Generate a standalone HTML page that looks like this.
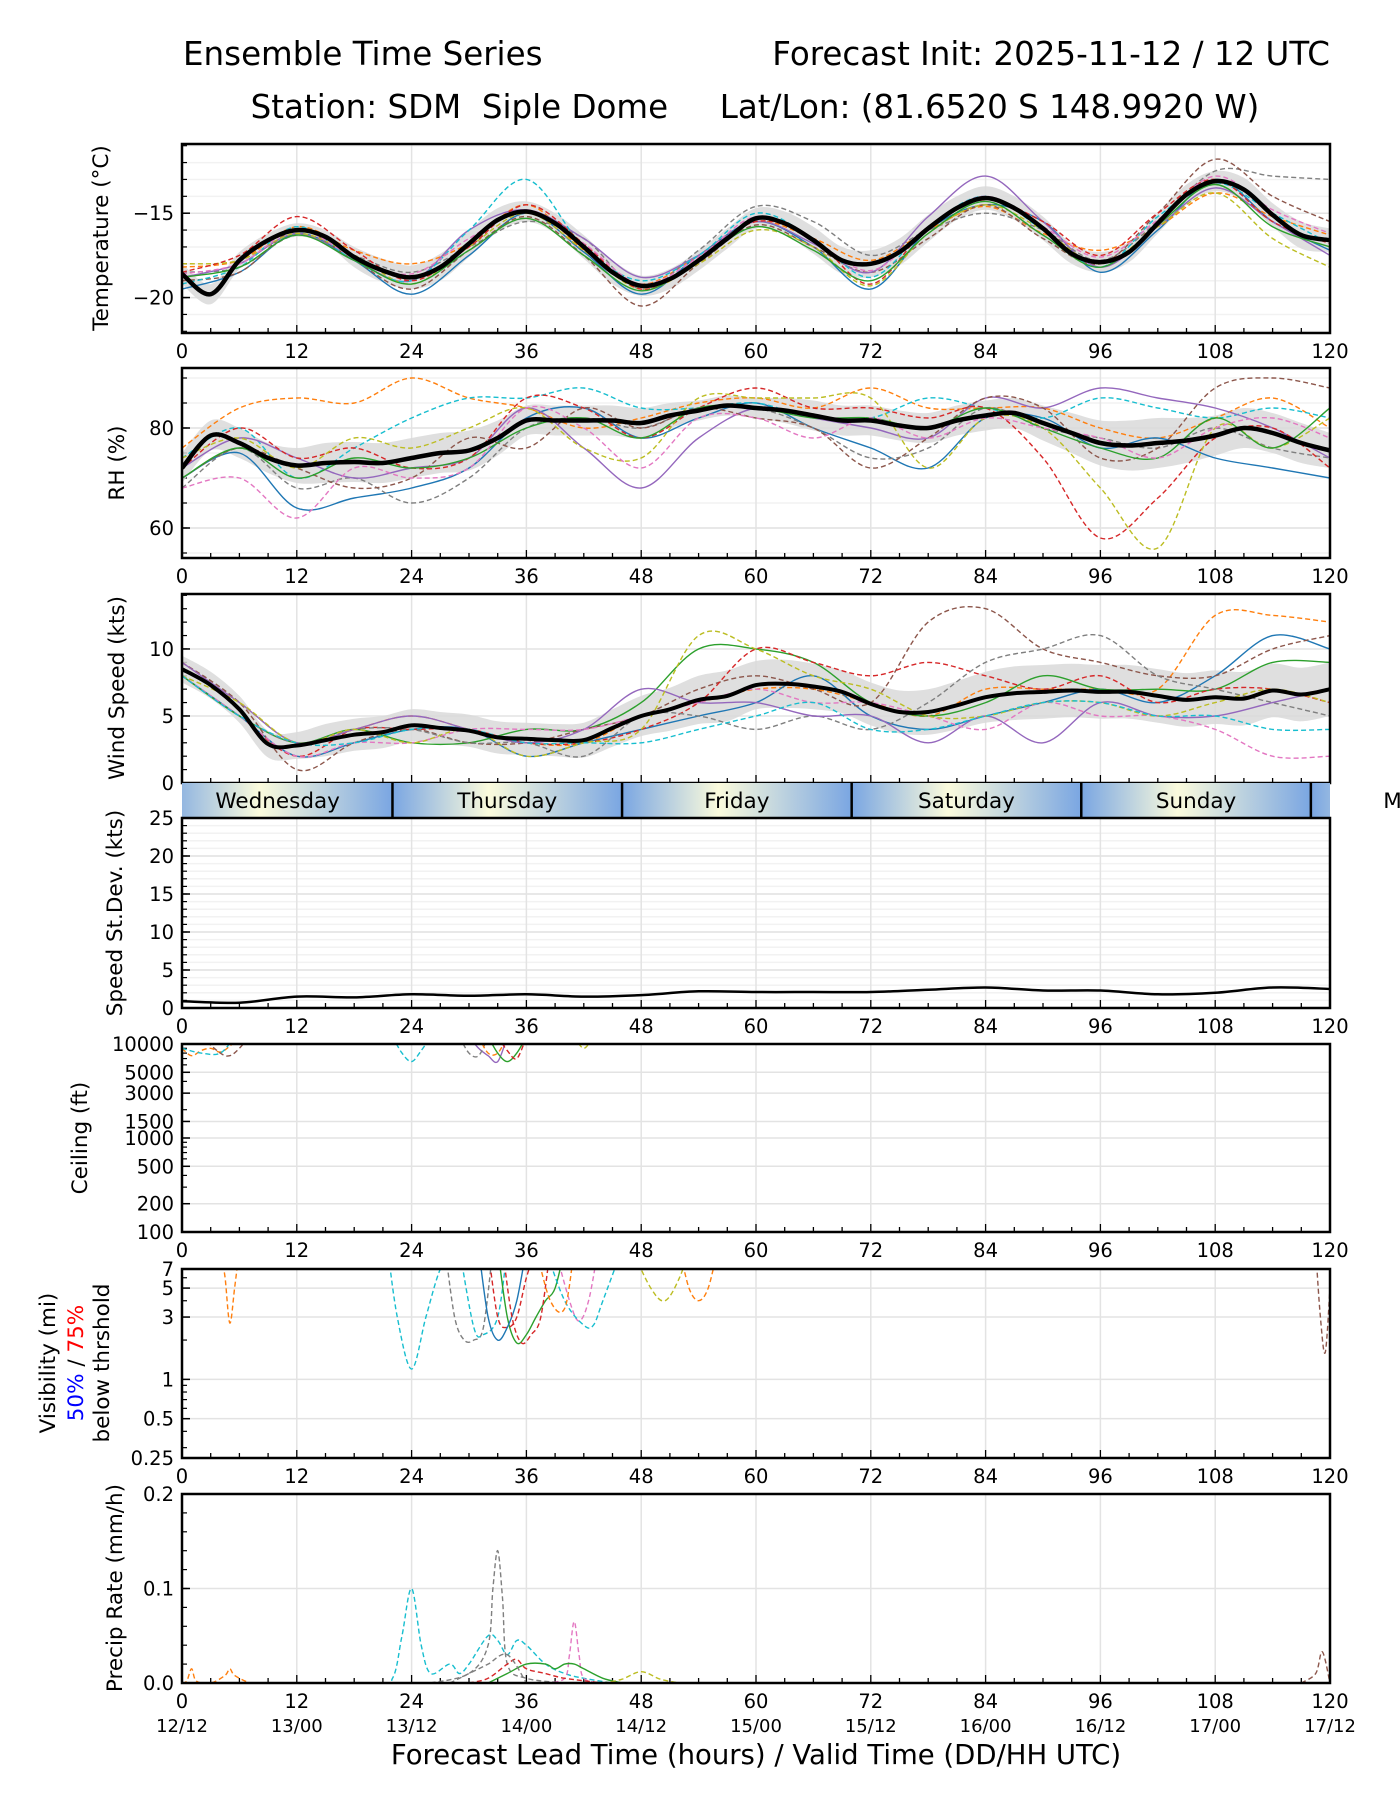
<!DOCTYPE html>
<html><head><meta charset="utf-8">
<style>
html,body{margin:0;padding:0;background:#fff;}
svg{display:block;font-family:"DejaVu Sans","Liberation Sans",sans-serif;}
</style></head>
<body>
<svg id="chart" xmlns="http://www.w3.org/2000/svg" width="1400" height="1800" viewBox="0 0 1400 1800">
<text x="183" y="65" font-size="32.5">Ensemble Time Series</text>
<text x="1330" y="65" font-size="32.5" text-anchor="end">Forecast Init: 2025-11-12 / 12 UTC</text>
<text x="755" y="118" font-size="32.5" text-anchor="middle" xml:space="preserve" style="white-space:pre">Station: SDM  Siple Dome     Lat/Lon: (81.6520 S 148.9920 W)</text>
<text x="756" y="1764" font-size="27.5" text-anchor="middle">Forecast Lead Time (hours) / Valid Time (DD/HH UTC)</text>
<g id="layer"></g>
</svg>
<script>
// ---------- DATA ----------
const hours3 = [0,3,6,9,12,15,18,21,24,27,30,33,36,39,42,45,48,51,54,57,60,63,66,69,72,75,78,81,84,87,90,93,96,99,102,105,108,111,114,117,120];
const hours6 = [0,6,12,18,24,30,36,42,48,54,60,66,72,78,84,90,96,102,108,114,120];
const tempMean = [-18.6,-19.8,-17.8,-16.6,-16.0,-16.4,-17.6,-18.4,-18.8,-18.2,-16.8,-15.4,-14.9,-15.6,-17.0,-18.5,-19.3,-18.9,-17.8,-16.5,-15.3,-15.6,-16.6,-17.8,-18.0,-17.3,-15.9,-14.7,-14.1,-14.7,-15.9,-17.4,-17.9,-17.3,-15.6,-13.9,-13.1,-13.6,-15.1,-16.3,-16.6];
const tempSpread = [0.6,0.6,0.5,0.4,0.4,0.4,0.6,0.7,0.7,0.8,0.8,0.7,0.6,0.6,0.7,0.7,0.6,0.6,0.6,0.6,0.6,0.7,0.8,0.8,0.8,0.8,0.8,0.7,0.7,0.7,0.7,0.6,0.6,0.6,0.6,0.6,0.6,0.7,0.7,0.8,0.7];
const tempM1 = [-19.5,-18.5,-16.2,-17.8,-19.8,-17.5,-15.0,-17.3,-19.8,-17.5,-15.5,-17.0,-19.5,-16.0,-14.5,-15.5,-18.5,-16.0,-13.0,-15.5,-17.2];
const tempM2 = [-18.2,-17.8,-15.8,-17.2,-18.0,-16.8,-14.5,-17.2,-19.2,-17.5,-15.5,-16.5,-17.8,-16.0,-14.6,-16.2,-17.2,-15.8,-13.8,-15.2,-16.3];
const tempM3 = [-18.5,-18.2,-16.3,-17.5,-18.5,-17.0,-15.5,-16.5,-19.5,-17.2,-14.6,-15.5,-17.5,-16.0,-15.0,-16.0,-17.8,-15.5,-12.5,-12.8,-13.0];
const tempM4 = [-19.0,-18.5,-16.0,-17.8,-19.5,-17.2,-15.2,-17.5,-20.5,-18.0,-15.7,-17.0,-18.5,-16.5,-14.5,-16.5,-18.0,-15.0,-11.8,-14.0,-15.5];
const tempM5 = [-18.8,-18.0,-16.2,-17.8,-19.0,-16.0,-14.8,-16.5,-18.8,-17.5,-15.5,-16.8,-18.5,-15.2,-12.8,-15.5,-18.2,-15.8,-13.5,-15.5,-17.5];
const tempM6 = [-18.0,-17.8,-16.2,-17.5,-19.2,-17.0,-15.0,-17.2,-19.5,-18.0,-16.0,-17.0,-19.3,-16.2,-14.5,-16.0,-18.0,-15.8,-13.8,-16.5,-18.2];
const tempM7 = [-19.2,-18.2,-15.8,-17.8,-19.0,-16.0,-13.0,-17.0,-19.0,-17.5,-15.0,-16.5,-18.8,-15.8,-14.0,-16.0,-18.2,-15.2,-13.2,-15.0,-16.8];
const tempM8 = [-18.5,-17.5,-15.2,-17.2,-19.0,-17.0,-14.5,-16.8,-19.5,-17.8,-15.5,-16.5,-19.2,-15.8,-14.2,-15.5,-17.5,-15.0,-13.0,-15.5,-16.8];
const tempM9 = [-18.8,-18.2,-16.3,-17.8,-19.2,-17.2,-15.3,-17.5,-19.6,-17.8,-15.8,-17.2,-19.0,-16.2,-14.3,-16.3,-18.2,-15.7,-13.3,-15.8,-17.0];
const tempM10 = [-18.6,-18.0,-16.0,-17.6,-18.6,-16.5,-14.8,-16.8,-19.2,-17.6,-15.2,-16.6,-18.4,-15.8,-14.0,-15.8,-17.6,-15.4,-12.8,-14.8,-16.2];

const rhMean = [72,78.5,77,74,72.5,73,73.2,73,74,75,75.5,78,81.5,81.5,81.5,81.5,81,82.5,83.5,84.5,84,83.5,82.5,81.5,81.5,80.5,80,81.5,82.5,83,81,79,77,76.5,77,77.5,78.5,80,79,77,75.5];
const rhSpread = [3,3,3,3,3.5,4,4,4,4,4,4,3.5,3,3,3,3,3,2.5,2,2,2,2.5,3,3,3,3,3,3,3,3,3.5,4,4.5,5,5,4.5,4,4,4,4,3.5];
const rhM1 = [76,84,86,85,90,86,84,80,82,85,86,84,88,84,84,84,80,78,82,86,80];
const rhM2 = [70,75,64,66,68,72,82,84,78,82,85,80,76,72,82,82,76,78,74,72,70];
const rhM3 = [68,76,68,70,65,70,80,82,80,84,84,80,74,76,84,80,78,76,80,76,74];
const rhM4 = [74,80,70,76,82,86,86,88,84,84,85,82,82,86,84,82,86,84,82,84,82];
const rhM5 = [72,78,74,70,72,74,84,76,68,78,84,82,80,78,86,84,88,86,84,80,74];
const rhM6 = [70,76,72,68,70,78,76,84,80,84,82,80,72,78,86,84,74,76,88,90,88];
const rhM7 = [72,80,74,76,72,74,86,84,78,84,88,84,84,82,84,74,58,66,78,80,72];
const rhM8 = [74,78,72,78,76,80,84,76,74,86,86,86,86,72,82,80,68,56,80,76,82];
const rhM9 = [70,76,70,74,72,74,80,82,78,84,84,82,82,80,84,80,76,74,82,76,84];
const rhM10 = [68,70,62,72,70,72,84,80,72,82,82,78,82,78,82,80,78,74,80,82,78];

const windMean = [8.5,7.3,5.5,2.9,2.8,3.2,3.6,3.8,4.3,4.1,3.9,3.4,3.3,3.2,3.2,4.1,5.0,5.5,6.2,6.5,7.3,7.4,7.2,6.8,5.9,5.3,5.3,5.8,6.4,6.7,6.8,6.9,6.8,6.8,6.5,6.2,6.4,6.3,6.9,6.6,7.0];
const windSpread = [1,1,1,1,1,1.2,1.2,1.2,1.2,1.2,1.2,1.2,1.2,1.2,1.3,1.4,1.5,1.6,1.8,1.9,1.8,1.8,1.7,1.6,1.6,1.6,1.7,1.8,1.9,2,2,2,2,2,2,2,2,2,2,2,2];
const windM1 = [9,6,3,4,5,4,3,3,5,6,7,7,6,5,7,7,7,7,12.5,12.5,12];
const windM2 = [8,5,2,3,4,4,2,3,4,5,6,8,5,4,5,6,7,6,8,11,10];
const windM3 = [8,5,3,4,3,3,4,4,6,10,10,9,6,5,6,8,7,7,7,9,9];
const windM4 = [9,6,1,3,4,3,3,4,5,7,8,7,6,12,13,10,9,8,8,10,11];
const windM5 = [8,5,2,4,4,4,3,3,4,6,10,9,8,9,8,7,8,6,7,7,6];
const windM6 = [8,5,3,4,4,3,3,2,5,5,4,5,4,6,9,10,11,8,7,6,5];
const windM7 = [9,6,3,4,5,4,3,4,7,6,6,5,5,3,5,3,6,5,5,6,7];
const windM8 = [8,5,2,3,3,4,4,4,5,6,7,6,6,5,4,6,5,5,4,2,2];
const windM9 = [8,6,3,4,3,4,2,3,4,11,10,8,7,5,5,6,6,5,6,7,6];
const windM10 = [8,5,3,3,4,4,3,3,3,4,5,6,4,4,5,6,6,5,5,4,4];

const sdValues = [0.9,0.7,1.5,1.4,1.8,1.6,1.8,1.5,1.7,2.2,2.1,2.1,2.1,2.4,2.7,2.3,2.3,1.8,2.0,2.7,2.5];

const dayNames = ["Wednesday","Thursday","Friday","Saturday","Sunday","Monday"];
const dayStarts = [-2,22,46,70,94,118];

const ceilH1=[0,1,2,3,4,5,6], ceilV1=[9000,7500,8500,9000,8200,9500,12000];
const ceilH2=[0,2,4,5.5], ceilV2=[9000,8000,8000,12000];
const ceilH3=[2,4,5,6,7], ceilV3=[12000,8000,7500,9000,12000];
const ceilH4=[22,23,24,25,26], ceilV4=[12000,8000,6500,8500,12000];
const ceilH5=[30,31,32,33,34], ceilV5=[12000,9000,7500,6500,12000];
const ceilH6=[32,33,34,35,36], ceilV6=[12000,8000,6500,8000,12000];
const ceilH7=[29,30,31,32], ceilV7=[12000,8000,7500,12000];
const ceilH8=[31,32,33,34], ceilV8=[12000,8000,8000,12000];
const ceilH9=[33,34,35,36], ceilV9=[12000,8500,7000,12000];
const ceilH10=[41,42,43], ceilV10=[12000,9000,12000];

const visH1=[4,4.5,5,5.5,6], visV1=[10,6,2.7,5,10];
const visH2=[21.5,22.5,24,25.5,27,28.5], visV2=[10,3,1.2,3,7,10];
const visH3=[27.5,28.5,29.5,30.5,31.5,32.5], visV3=[10,3,2,2,2.5,10];
const visH4=[29,30.5,31.5,33,34], visV4=[10,2.5,2.2,3,10];
const visH5=[33,34,35,36,37,38,39,40], visV5=[10,3,1.9,2.2,3,4,5,10];
const visH6=[32,33,34,35,36,37], visV6=[10,3,2.5,3,6,10];
const visH7=[31,32,33,34,35,36], visV7=[10,3,2,2.5,4,10];
const visH8=[33.5,34.5,35.5,36.5,37.5,38.5], visV8=[10,3,1.9,2.2,3,10];
const visH9=[39,40.5,41.5,42.5,43.5], visV9=[10,4,2.8,4,10];
const visH10=[38,40,42,43,44,46], visV10=[10,4,2.6,2.6,4,10];
const visH11=[47,49,50.5,52,53], visV11=[10,5,4,6,10];
const visH12=[52,53,54,55,56], visV12=[10,5,4,5,10];
const visH13=[118.5,119,119.5,120], visV13=[10,3,1.6,5];
const visH14=[37,38.5,40,41], visV14=[10,4,3.5,10];

const prH1=[0,20,22,23,24,25,26,28,29,30,32,33,34,35,36,38,40,42,45], prV1=[0,0,0.005,0.05,0.1,0.04,0.01,0.02,0.01,0.02,0.05,0.045,0.03,0.045,0.04,0.02,0.01,0.005,0];
const prH2=[26,30,32,32.5,33,33.5,34,36,40], prV2=[0,0.01,0.04,0.1,0.14,0.09,0.02,0.005,0];
const prH3=[38,40,40.5,41,41.5,42,44], prV3=[0,0.005,0.03,0.065,0.03,0.005,0];
const prH4=[32,34,36,38,39,40,41,42,44,46], prV4=[0,0.01,0.02,0.02,0.015,0.02,0.02,0.015,0.005,0];
const prH5=[30,32,34,35,36,38,40,44], prV5=[0,0.005,0.02,0.025,0.015,0.01,0.005,0];
const prH6=[117,118.5,119.2,120], prV6=[0,0.01,0.033,0];
const prH7=[0,0.5,1,1.5,3,4.5,5,5.5,7], prV7=[0,0.002,0.015,0.002,0,0.008,0.015,0.008,0];
const prH8=[44,46,48,50,52], prV8=[0,0.004,0.012,0.004,0];
const prH9=[28,30,32,34,36], prV9=[0,0.01,0.02,0.03,0];

// ---------- HELPERS ----------
const NS="http://www.w3.org/2000/svg";
const layer=document.getElementById('layer');
const X0=182, X1=1330;
const TICKFS=19.5, LABFS=21.5;
function sx(h){return X0+h/120*(X1-X0);}
function mk(tag,attrs,parent){const e=document.createElementNS(NS,tag);for(const k in attrs)e.setAttribute(k,attrs[k]);(parent||layer).appendChild(e);return e;}
function smooth(pts){
  if(pts.length<2)return "";
  let d="M"+pts[0][0].toFixed(1)+","+pts[0][1].toFixed(1);
  for(let i=0;i<pts.length-1;i++){
    const p0=pts[Math.max(0,i-1)],p1=pts[i],p2=pts[i+1],p3=pts[Math.min(pts.length-1,i+2)];
    const c1x=p1[0]+(p2[0]-p0[0])/6,c1y=p1[1]+(p2[1]-p0[1])/6;
    const c2x=p2[0]-(p3[0]-p1[0])/6,c2y=p2[1]-(p3[1]-p1[1])/6;
    d+=" C"+c1x.toFixed(1)+","+c1y.toFixed(1)+" "+c2x.toFixed(1)+","+c2y.toFixed(1)+" "+p2[0].toFixed(1)+","+p2[1].toFixed(1);
  }
  return d;
}
const COLORS=["#1f77b4","#ff7f0e","#7f7f7f","#8c564b","#9467bd","#bcbd22","#17becf","#d62728","#2ca02c","#e377c2"];
const DASH=[null,"5,3","5,3","5,3",null,"5,3","5,3","5,3",null,"5,3"];
let clipId=0;

function panel(name,top,bot,ys,opts){
  const g=mk('g',{});
  
  
  (opts.minorGrid||[]).forEach(v=>{
    const l=mk('line',{x1:X0,x2:X1,y1:ys(v),y2:ys(v),stroke:'#f2f2f2','stroke-width':1.5},g);
    
    
  });
  for(let h=12;h<120;h+=12){
    const l=mk('line',{x1:sx(h),x2:sx(h),y1:top,y2:bot,stroke:'#e3e3e3','stroke-width':1.5},g);
    
    
  }
  opts.majors.forEach((v,i)=>{
    const y=ys(v);
    if(y>top+1&&y<bot-1){
      const l=mk('line',{x1:X0,x2:X1,y1:y,y2:y,stroke:'#e3e3e3','stroke-width':1.5},g);
      
      
    }
    const t=mk('text',{x:174,y:y+7,'font-size':TICKFS,'text-anchor':'end'},g);
    t.textContent=opts.labels[i];
    
    
    const tk=mk('line',{x1:X0,x2:X0+8,y1:y,y2:y,stroke:'#000','stroke-width':1.5},g);
    
    
  });
  (opts.minorTicks||[]).forEach(v=>{
    const y=ys(v);
    const tk=mk('line',{x1:X0,x2:X0+5,y1:y,y2:y,stroke:'#000','stroke-width':1.2},g);
    
    
  });
  for(let h=0;h<=120;h+=3){
    const len=(h%12===0)?8:5;
    const tk=mk('line',{x1:sx(h),x2:sx(h),y1:bot,y2:bot-len,stroke:'#000','stroke-width':1.3},g);
    
    
  }
  if(opts.xlabels){
    for(let h=0;h<=120;h+=12){
      const t=mk('text',{x:sx(h),y:bot+25,'font-size':TICKFS,'text-anchor':'middle'},g);
      t.textContent=String(h);
      
      
    }
  }
  const cid='c'+(clipId++);
  const cp=mk('clipPath',{id:cid},g);
  mk('rect',{x:X0,y:top,width:X1-X0,height:bot-top},cp);
  const data=mk('g',{'clip-path':'url(#'+cid+')'},g);
  
  
  g._data=data; g._top=top; g._bot=bot; g._name=name;
  return g;
}
function frame(g){
  const r=mk('rect',{x:X0,y:g._top,width:X1-X0,height:g._bot-g._top,fill:'none',stroke:'#000','stroke-width':2.5},g);
  
  
}
function member(g,hs,vs,ys,idx,name){
  const p=mk('path',{d:smooth(hs.map((h,i)=>[sx(h),ys(vs[i])])),fill:'none',stroke:COLORS[idx%10],'stroke-width':1.4},g._data);
  if(DASH[idx%10])p.setAttribute('stroke-dasharray',DASH[idx%10]);
  
  
}
function band(g,hs,mean,spread,ys,name){
  const up=hs.map((h,i)=>[sx(h),ys(mean[i]+spread[i])]);
  const lo=hs.map((h,i)=>[sx(h),ys(mean[i]-spread[i])]).reverse();
  const d=smooth(up)+" L"+smooth(lo).slice(1)+" Z";
  const p=mk('path',{d:d,fill:'#d9d9d9',stroke:'none','fill-opacity':0.85},g._data);
  
  
}
function meanLine(g,hs,vs,ys,name,w){
  const p=mk('path',{d:smooth(hs.map((h,i)=>[sx(h),ys(vs[i])])),fill:'none',stroke:'#000','stroke-width':w||4.5,'stroke-linejoin':'round'},g._data);
  
  
}
function ylabel(x,cy,txt,name){
  const t=mk('text',{x:x,y:cy,'font-size':LABFS,'text-anchor':'middle',transform:'rotate(-90 '+x+' '+cy+')'});
  t.textContent=txt;
  
  
  return t;
}
function lin(top,bot,lo,hi){return v=>bot-(v-lo)/(hi-lo)*(bot-top);}
function lg(top,bot,lo,hi){return v=>bot-(Math.log(v)-Math.log(lo))/(Math.log(hi)-Math.log(lo))*(bot-top);}
function range(a,b,s){const r=[];for(let v=a;v<=b+1e-9;v+=s)r.push(+v.toFixed(4));return r;}

// ---------- TEMPERATURE ----------
{
  const ys=lin(144,333,-22.1,-10.9);
  const g=panel('temperature',144,333,ys,{majors:[-20,-15],labels:['\u221220','\u221215'],minorGrid:range(-22,-11,1),minorTicks:range(-22,-11,1),xlabels:true});
  band(g,hours3,tempMean,tempSpread,ys,'temperature-spread-band');
  [tempM1,tempM2,tempM3,tempM4,tempM5,tempM6,tempM7,tempM8,tempM9,tempM10].forEach((m,i)=>member(g,hours6,m,ys,i,'temperature-member-'+(i+1)));
  meanLine(g,hours3,tempMean,ys,'temperature-mean-line');
  frame(g);
  ylabel(108,238,'Temperature (\u00B0C)','temperature-y-axis-title');
}
// ---------- RH ----------
{
  const ys=lin(368,558,54,92);
  const g=panel('rh',368,558,ys,{majors:[60,80],labels:['60','80'],minorGrid:range(55,90,5),minorTicks:range(55,90,5),xlabels:true});
  band(g,hours3,rhMean,rhSpread,ys,'rh-spread-band');
  [rhM1,rhM2,rhM3,rhM4,rhM5,rhM6,rhM7,rhM8,rhM9,rhM10].forEach((m,i)=>member(g,hours6,m,ys,[1,0,2,6,4,3,7,5,8,9][i],'rh-member-'+(i+1)));
  meanLine(g,hours3,rhMean,ys,'rh-mean-line');
  frame(g);
  ylabel(124,463,'RH (%)','rh-y-axis-title');
}
// ---------- WIND ----------
{
  const ys=lin(594,783,0,14.1);
  const g=panel('wind',594,783,ys,{majors:[0,5,10],labels:['0','5','10'],minorTicks:range(1,14,1),xlabels:false});
  band(g,hours3,windMean,windSpread,ys,'wind-spread-band');
  [windM1,windM2,windM3,windM4,windM5,windM6,windM7,windM8,windM9,windM10].forEach((m,i)=>member(g,hours6,m,ys,[1,0,8,3,7,2,4,9,5,6][i],'wind-member-'+(i+1)));
  meanLine(g,hours3,windMean,ys,'wind-mean-line',4);
  frame(g);
  ylabel(124,688,'Wind Speed (kts)','wind-y-axis-title');
}
// ---------- DAY BAR ----------
{
  const defs=mk('defs',{});
  const gr=mk('linearGradient',{id:'dayg',x1:'0',x2:'1',y1:'0',y2:'0'},defs);
  mk('stop',{offset:'0','stop-color':'#7aa6e2'},gr);
  mk('stop',{offset:'0.42','stop-color':'#fbfbdc'},gr);
  mk('stop',{offset:'1','stop-color':'#7aa6e2'},gr);
  const cp=mk('clipPath',{id:'barclip'},defs);
  mk('rect',{x:X0,y:783,width:X1-X0,height:35},cp);
  const bg=mk('g',{'clip-path':'url(#barclip)'});
  
  
  dayStarts.forEach((s,i)=>{
    const r=mk('rect',{x:sx(s),y:783,width:sx(s+24)-sx(s),height:35,fill:'url(#dayg)'},bg);
    
    
    if(s>0){
      const l=mk('line',{x1:sx(s),x2:sx(s),y1:783,y2:818,stroke:'#000','stroke-width':2.5},bg);
      
      
    }
  });
  dayStarts.forEach((s,i)=>{
    const t=mk('text',{x:sx(s+12),y:808,'font-size':LABFS,'text-anchor':'middle'});
    t.textContent=dayNames[i];
    
    
  });
}
// ---------- STDEV ----------
{
  const ys=lin(818,1008,0,25);
  const g=panel('stdev',818,1008,ys,{majors:[0,5,10,15,20,25],labels:['0','5','10','15','20','25'],minorGrid:range(1,24,1),minorTicks:range(1,24,1),xlabels:true});
  meanLine(g,hours6,sdValues,ys,'stdev-line',2.5);
  frame(g);
  ylabel(122,913,'Speed St.Dev. (kts)','stdev-y-axis-title');
}
// ---------- CEILING ----------
{
  const ys=lg(1044,1232,100,10000);
  const minor=[300,400,600,700,800,900,2000,4000,6000,7000,8000,9000];
  const g=panel('ceiling',1044,1232,ys,{majors:[100,200,500,1000,1500,3000,5000,10000],labels:['100','200','500','1000','1500','3000','5000','10000'],minorTicks:minor,xlabels:true});
  const CH=[ceilH1,ceilH2,ceilH3,ceilH4,ceilH5,ceilH6,ceilH7,ceilH8,ceilH9,ceilH10];
  const CV=[ceilV1,ceilV2,ceilV3,ceilV4,ceilV5,ceilV6,ceilV7,ceilV8,ceilV9,ceilV10];
  const CI=[1,6,3,6,4,8,2,1,7,5];
  CH.forEach((h,i)=>member(g,h,CV[i],ys,CI[i],'ceiling-member-'+(i+1)));
  frame(g);
  ylabel(87,1138,'Ceiling (ft)','ceiling-y-axis-title');
}
// ---------- VISIBILITY ----------
{
  const ys=lg(1269,1458,0.25,7);
  const g=panel('visibility',1269,1458,ys,{majors:[0.25,0.5,1,3,5,7],labels:['0.25','0.5','1','3','5','7'],minorTicks:[0.3,0.4,0.6,0.7,0.8,0.9,2,4,6],xlabels:true});
  const VH=[visH1,visH2,visH3,visH4,visH5,visH6,visH7,visH8,visH9,visH10,visH11,visH12,visH13,visH14];
  const VV=[visV1,visV2,visV3,visV4,visV5,visV6,visV7,visV8,visV9,visV10,visV11,visV12,visV13,visV14];
  const VI=[1,6,2,6,8,7,0,7,9,6,5,1,3,1];
  VH.forEach((h,i)=>member(g,h,VV[i].map(v=>Math.max(v,0.26)),ys,VI[i],'visibility-member-'+(i+1)));
  frame(g);
  ylabel(55,1363,'Visibility (mi)','visibility-y-axis-title');
  const t=mk('text',{x:83,y:1363,'font-size':LABFS,'text-anchor':'middle',transform:'rotate(-90 83 1363)'});
  
  
  const a=mk('tspan',{fill:'#0000ff'},t);a.textContent='50%';
  const b=mk('tspan',{fill:'#000'},t);b.textContent=' / ';
  const c=mk('tspan',{fill:'#ff0000'},t);c.textContent='75%';
  ylabel(109,1363,'below thrshold','visibility-threshold-subtitle');
}
// ---------- PRECIP ----------
{
  const ys=lin(1494,1683,0,0.2);
  const g=panel('precip',1494,1683,ys,{majors:[0,0.1,0.2],labels:['0.0','0.1','0.2'],minorTicks:range(0.02,0.18,0.02),xlabels:true});
  const PH=[prH1,prH2,prH3,prH4,prH5,prH6,prH7,prH8,prH9];
  const PV=[prV1,prV2,prV3,prV4,prV5,prV6,prV7,prV8,prV9];
  const PI=[6,2,9,8,7,3,1,5,2];
  PH.forEach((h,i)=>member(g,h,PV[i],ys,PI[i],'precip-member-'+(i+1)));
  frame(g);
  ylabel(122,1588,'Precip Rate (mm/h)','precip-y-axis-title');
  const dates=['12/12','13/00','13/12','14/00','14/12','15/00','15/12','16/00','16/12','17/00','17/12'];
  dates.forEach((d,i)=>{
    const t=mk('text',{x:sx(i*12),y:1732,'font-size':18,'text-anchor':'middle'});
    t.textContent=d;
    
    
  });
}
</script>
</body></html>
